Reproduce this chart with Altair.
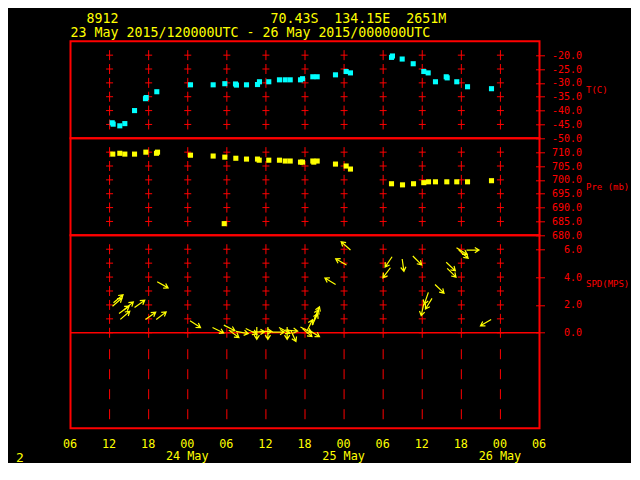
import altair as alt
import pandas as pd

RED = "#ff0000"
YELLOW = "#ffff00"
CYAN = "#00ffff"
MONO = "DejaVu Sans Mono"

# times in hours since 2015-05-23 00:00 UTC
t_time = [12.4, 12.55, 13.57, 14.34, 15.83, 17.51, 17.62, 19.25, 24.42, 27.9,
          29.69, 31.33, 31.48, 33.02, 34.71, 35.01, 36.44, 38.08, 38.96, 39.73,
          41.31, 41.62, 43.2, 43.87, 46.68, 48.32, 48.98, 55.28, 55.43, 56.92,
          58.61, 60.24, 60.91, 62.03, 63.68, 63.83, 65.3, 66.95, 70.63]
t_val = [-44.4, -44.9, -45.5, -44.7, -40.0, -35.7, -35.3, -33.2, -30.7, -30.7,
         -30.3, -30.4, -30.8, -30.7, -30.6, -29.6, -29.6, -28.9, -28.9, -28.9,
         -28.9, -28.5, -27.8, -27.8, -27.1, -25.9, -26.4, -20.8, -20.3, -21.4,
         -23.1, -25.9, -26.4, -29.6, -27.8, -28.2, -29.6, -31.4, -32.1]

p_time = [12.49, 13.57, 14.34, 15.83, 17.57, 19.2, 19.36, 24.42, 27.9, 29.6,
          29.69, 31.38, 33.02, 34.71, 34.97, 36.44, 38.08, 38.96, 39.73, 41.31,
          41.62, 43.2, 43.35, 43.87, 46.68, 48.32, 48.98, 55.28, 56.97, 58.66,
          60.24, 60.96, 62.03, 63.77, 65.3, 66.95, 70.63]
p_val = [709.3, 709.6, 709.3, 709.3, 710.0, 709.6, 710.0, 708.9, 708.6, 684.2,
         708.2, 707.8, 707.5, 707.5, 707.1, 707.1, 707.1, 706.8, 706.8, 706.4,
         706.4, 706.8, 706.4, 706.8, 705.7, 705.0, 703.9, 698.6, 698.2, 698.6,
         699.0, 699.3, 699.3, 699.3, 699.3, 699.3, 699.7]

# wind: time, speed (m/s), direction the arrow points (deg clockwise from north)
w_time = [12.45, 12.6, 13.45, 13.65, 14.2, 15.83, 17.51, 19.16, 19.31, 24.35,
          27.8, 29.54, 30.3, 31.4, 32.9, 33.9, 34.6, 35.0, 36.3, 36.9,
          38.0, 38.96, 39.26, 39.8, 41.3, 41.6, 42.6, 42.3, 43.1, 43.3,
          43.5, 46.7, 48.37, 48.98, 55.12, 55.37, 56.92, 58.55, 60.24, 60.94,
          61.5, 61.96, 63.68, 63.83, 65.26, 65.6, 66.8, 70.58]
w_spd = [1.91, 2.15, 1.39, 0.96, 1.63, 1.82, 0.96, 0.96, 3.66, 0.86,
         0.38, 0.55, 0.19, 0.1, 0.31, 0.07, 0.42, 0.1, 0.42, 0.05,
         0.38, 0.2, 0.42, 0.19, 0.42, 0.3, 0.19, 0.12, 0.55, 0.83,
         1.04, 3.47, 4.86, 5.94, 4.67, 5.46, 5.3, 5.51, 2.1, 2.9,
         2.47, 3.47, 5.06, 4.63, 6.1, 5.94, 5.94, 0.96]
w_dir = [49, 50, 54, 49, 49, 55, 55, 53, 119, 123,
         116, 117, 126, 100, 117, 90, 180, 90, 180, 90,
         118, 95, 180, 155, 117, 130, 122, 26, 26, 23,
         22, 301, 300, 312, 217, 214, 172, 135, 192, 199,
         212, 134, 133, 135, 122, 131, 90, 239]

# grid / axis tick values
hour_ticks = [6, 12, 18, 24, 30, 36, 42, 48, 54, 60, 66, 72, 78]
grid_cols = [12, 18, 24, 30, 36, 42, 48, 54, 60, 66, 72]
t_ticks = [-20, -25, -30, -35, -40, -45]
t_axis_vals = [-50, -45, -40, -35, -30, -25, -20]
p_ticks = [710, 705, 700, 695, 690, 685]
p_axis_vals = [680, 685, 690, 695, 700, 705, 710]
s_ticks = [0, 1, 2, 3, 4, 5, 6]
dash_top, dash_bottom = -1.18, -6.86

NB = "\u00a0"
header1 = "\u200b" + NB + "\u2002" + "8912" + NB * 19 + "70.43S" + NB * 2 + "134.15E" + NB * 2 + "2651M"
header2 = "23" + NB + "May" + NB + "2015/120000UTC" + NB + "-" + NB + "26" + NB + "May" + NB + "2015/000000UTC"

CROSS = "M-0.7,0L0.7,0M0,-1L0,1"
ARROW = "M0,0L0,-2M-0.42,-1.32L0,-2L0.42,-1.32"

W = 469

xs = alt.Scale(domain=[6, 78], nice=False, zero=False)
x_none = alt.X("t:Q", scale=xs, axis=None)


def right_axis(vals, title):
    expr = "(datum.value < 0 ? '-' : '') + format(abs(datum.value), '.1f')"
    return alt.Axis(orient="right", values=vals, labelExpr=expr, tickSize=9, offset=-4,
                    tickColor=RED, tickWidth=1, labelColor=RED, labelFont=MONO,
                    labelFontSize=10, labelAlign="right", labelPadding=37,
                    labelBaseline="middle", domain=False, grid=False, labelOverlap=False,
                    title=title, titleAngle=0, titleAlign="left", titleBaseline="middle",
                    titleX=50, titleY=48, titleColor=RED, titleFont=MONO, titleFontSize=9,
                    titleFontWeight="normal")


def crosses(ticks):
    return pd.DataFrame([{"t": c, "v": v} for c in grid_cols for v in ticks])


# ---------------- temperature panel
yT = alt.Y("v:Q", scale=alt.Scale(domain=[-50, -15], nice=False, zero=False),
           axis=right_axis(t_axis_vals, "T(C)"))
t_grid = alt.Chart(crosses(t_ticks)).mark_point(
    shape=CROSS, size=100, filled=False, color=RED, strokeWidth=1, opacity=1
).encode(x=x_none, y=yT)
t_pts = alt.Chart(pd.DataFrame({"t": t_time, "v": t_val})).mark_square(
    size=26, color=CYAN, opacity=1).encode(x=x_none, y=yT)
panel_t = alt.layer(t_grid, t_pts).properties(width=W, height=97)

# ---------------- pressure panel
yP = alt.Y("v:Q", scale=alt.Scale(domain=[680, 715], nice=False, zero=False),
           axis=right_axis(p_axis_vals, "Pre (mb)"))
p_grid = alt.Chart(crosses(p_ticks)).mark_point(
    shape=CROSS, size=100, filled=False, color=RED, strokeWidth=1, opacity=1
).encode(x=x_none, y=yP)
p_pts = alt.Chart(pd.DataFrame({"t": p_time, "v": p_val})).mark_square(
    size=26, color=YELLOW, opacity=1).encode(x=x_none, y=yP)
panel_p = alt.layer(p_grid, p_pts).properties(width=W, height=97)

# ---------------- wind speed panel
x_axis = alt.Axis(
    values=hour_ticks,
    labelExpr="datum.value % 24 == 0 ? ['00', (23 + datum.value / 24) + ' May'] : "
              "((datum.value % 24 < 10 ? '0' : '') + (datum.value % 24))",
    ticks=False, domain=False, grid=False, labelColor=YELLOW, labelFont=MONO,
    labelFontSize=11.8, labelPadding=10.4, labelFlush=False, labelOverlap=False,
    labelLineHeight=12.3, labelOffset=-1, labelBaseline="top",
    title="2", titleX=-51, titleY=29, titleColor=YELLOW, titleFont=MONO,
    titleFontSize=13, titleFontWeight="normal", titleAlign="center", titleBaseline="middle")
x_bot = alt.X("t:Q", scale=xs, axis=x_axis)
yS = alt.Y("v:Q", scale=alt.Scale(domain=[-6.86, 7], nice=False, zero=False),
           axis=right_axis(s_ticks, "SPD(MPS)"))
s_grid = alt.Chart(crosses(s_ticks)).mark_point(
    shape=CROSS, size=100, filled=False, color=RED, strokeWidth=1, opacity=1
).encode(x=x_bot, y=yS)
s_dash = alt.Chart(pd.DataFrame({"t": grid_cols})).mark_rule(
    color=RED, strokeWidth=1, strokeDash=[10, 10]
).encode(x=x_bot, y=alt.datum(dash_top), y2=alt.datum(dash_bottom))
s_zero = alt.Chart(pd.DataFrame({"v": [0]})).mark_rule(
    color=RED, strokeWidth=1.5).encode(y=yS)
s_arrows = alt.Chart(pd.DataFrame({"t": w_time, "v": w_spd, "d": w_dir})).mark_point(
    shape=ARROW, size=156, filled=False, color=YELLOW, strokeWidth=1.2, opacity=1
).encode(x=x_bot, y=yS, angle=alt.Angle("d:Q", scale=None))
panel_s = alt.layer(s_grid, s_dash, s_zero, s_arrows).properties(width=W, height=193)

chart = alt.vconcat(panel_t, panel_p, panel_s, spacing=0, bounds="flush").properties(
    title=alt.TitleParams(text=[header1, header2], color=YELLOW, font=MONO, fontSize=13.3,
                          fontWeight="normal", anchor="start", frame="group",
                          lineHeight=14, offset=0.6),
    padding={"left": 6.5, "top": 4.3, "right": 0, "bottom": -2},
    background="black",
).configure_view(
    stroke=RED, strokeWidth=2, fill=None
)

chart.save("out.html", embed_options={"renderer": "svg", "actions": False})
